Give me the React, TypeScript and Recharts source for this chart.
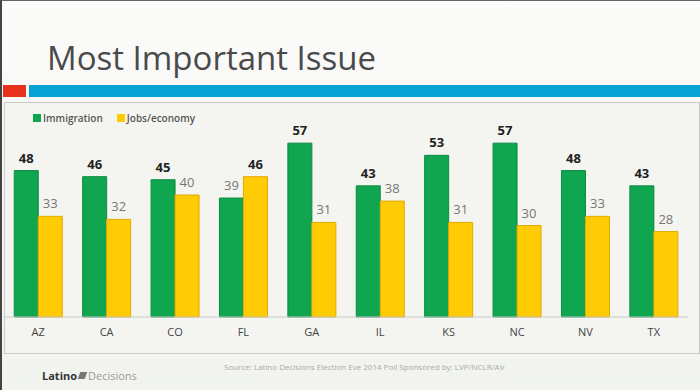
import { BarChart, Bar, XAxis, YAxis, LabelList } from 'recharts';

const states = ['AZ', 'CA', 'CO', 'FL', 'GA', 'IL', 'KS', 'NC', 'NV', 'TX'];
const immigration = [48, 46, 45, 39, 57, 43, 53, 57, 48, 43];
const jobs = [33, 32, 40, 46, 31, 38, 31, 30, 33, 28];

const data = states.map((s, i) => ({ state: s, immigration: immigration[i], jobs: jobs[i] }));

const FONT = '"Open Sans", "DejaVu Sans", sans-serif';

// bigger value of a pair gets the dark bold label
function makeLabel(own: number[], other: number[]) {
  return (props: any) => {
    const { x, y, width, index } = props;
    const v = own[index];
    const top = v > other[index];
    return (
      <text
        x={x + width / 2}
        y={y - 8}
        textAnchor="middle"
        fontFamily={FONT}
        fontSize={13}
        fontWeight={top ? 700 : 400}
        fill={top ? '#222' : '#777'}
      >
        {v}
      </text>
    );
  };
}

function LegendBox() {
  const items = [
    { label: 'Immigration', color: '#10a54f' },
    { label: 'Jobs/economy', color: '#ffcb05' },
  ];
  return (
    <div style={{ display: 'flex', gap: 14, fontFamily: FONT, fontSize: 10, fontWeight: 600, color: '#555' }}>
      {items.map((it) => (
        <span key={it.label} style={{ display: 'flex', alignItems: 'center' }}>
          <span style={{ width: 8, height: 8, background: it.color, marginRight: 2, display: 'inline-block' }} />
          {it.label}
        </span>
      ))}
    </div>
  );
}

export default function App() {
  return (
    <div
      style={{
        position: 'absolute',
        left: 0,
        top: 0,
        width: 700,
        height: 390,
        background: 'linear-gradient(#fbfbf9, #f1f3ef)',
        boxSizing: 'border-box',
        borderLeft: '2px solid #444',
        borderTop: '1px solid #666',
        overflow: 'hidden',
      }}
    >
      <div
        style={{
          position: 'absolute',
          left: 45,
          top: 34,
          fontFamily: FONT,
          fontWeight: 400,
          fontSize: 33,
          color: '#4a4a4a',
        }}
      >
        Most Important Issue
      </div>
      <div style={{ position: 'absolute', left: 1, top: 84, width: 23, height: 12, background: '#e8321e' }} />
      <div style={{ position: 'absolute', left: 27, top: 84, width: 680, height: 12, background: '#08a2d6' }} />
      <div
        style={{
          position: 'absolute',
          left: 2,
          top: 101,
          width: 694,
          height: 250,
          border: '1px solid #c9cbc8',
          background: '#f4f5f1',
        }}
      >
        <div style={{ position: 'absolute', left: 28, top: 8 }}>
          <LegendBox />
        </div>
        <BarChart
          width={693}
          height={250}
          data={data}
          margin={{ top: 31, right: 10, left: -1, bottom: 8 }}
          barCategoryGap="15%"
          barGap={0}
        >
          <XAxis
            dataKey="state"
            axisLine={{ stroke: '#c8cac6' }}
            tickLine={false}
            height={28}
            tick={{ fill: '#444', fontSize: 11, fontFamily: FONT }}
            tickMargin={5}
          />
          <YAxis hide domain={[0, 60]} />
          <Bar dataKey="immigration" name="Immigration" fill="#10a54f" stroke="#0b8c42" isAnimationActive={false}>
            <LabelList dataKey="immigration" content={makeLabel(immigration, jobs)} />
          </Bar>
          <Bar dataKey="jobs" name="Jobs/economy" fill="#ffcb05" stroke="#e3a900" isAnimationActive={false}>
            <LabelList dataKey="jobs" content={makeLabel(jobs, immigration)} />
          </Bar>
        </BarChart>
      </div>
      <div
        style={{
          position: 'absolute',
          left: 222,
          top: 360,
          fontFamily: FONT,
          fontSize: 8,
          color: '#a8aaa6',
        }}
      >
        Source: Latino Decisions Election Eve 2014 Poll Sponsored by: LVP/NCLR/AV
      </div>
      <div
        style={{
          position: 'absolute',
          left: 40,
          top: 367,
          fontFamily: FONT,
          fontSize: 11,
          display: 'flex',
          alignItems: 'center',
        }}
      >
        <span style={{ fontWeight: 700, color: '#333' }}>Latino</span>
        <span style={{ width: 7, height: 7, background: '#777', margin: '0 2px', display: 'inline-block', transform: 'skewX(-20deg)' }} />
        <span style={{ color: '#999' }}>Decisions</span>
      </div>
    </div>
  );
}
